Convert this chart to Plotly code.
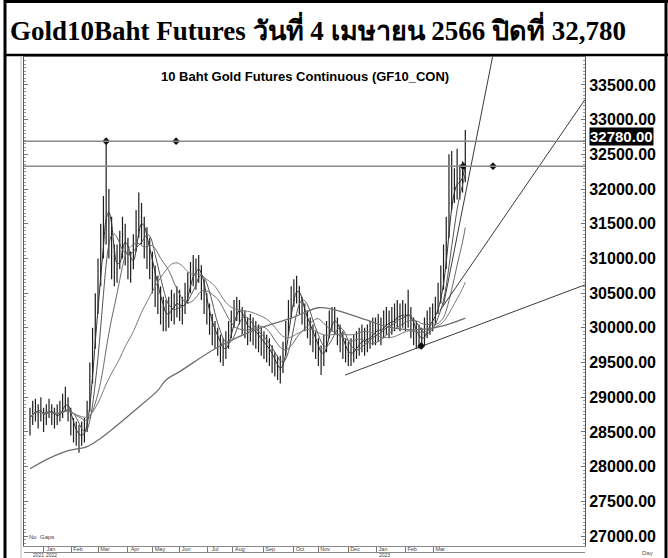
import plotly.graph_objects as go
import pandas as pd

# ---------------- data (one bar = 2 trading days) ----------------
close = [28700, 28800, 28850, 28750, 28820, 28700, 28780, 28850, 28760, 28700,
         28750, 28800, 28900, 28950, 28800, 28600, 28550, 28450, 28420, 28480,
         28550, 28800, 29300, 29800, 30300, 30700, 31200, 31600, 31900, 31500,
         31100, 30800, 30900, 31100, 31350, 31250, 30950, 30850, 31100, 31400,
         31600, 31500, 31300, 31150, 31000, 30800, 30600, 30500, 30300, 30200,
         30150, 30250, 30350, 30300, 30400, 30300, 30250, 30450, 30600, 30750,
         30850, 30800, 30900, 30650, 30400, 30250, 30100, 29950, 29900, 29800,
         29700, 29650, 29750, 29900, 30050, 30200, 30300, 30250, 30100, 30050,
         29950, 30000, 29950, 29900, 29850, 29800, 29750, 29700, 29650, 29550,
         29450, 29400, 29400, 29600, 29900, 30200, 30400, 30550, 30600, 30400,
         30250, 30150, 30050, 29950, 29850, 29750, 29650, 29550, 29700, 29900,
         30050, 30150, 30100, 29950, 29850, 29750, 29650, 29600, 29650, 29700,
         29750, 29800, 29850, 29800, 29850, 29900, 29950, 29950, 30000, 29950,
         30050, 30100, 30050, 30100, 30150, 30200, 30150, 30200, 30150, 30250,
         30050, 29950, 29900, 29850, 29800, 29950, 30050, 30100, 30150, 30250,
         30400, 30600, 30900, 31350, 31800, 32000, 32050, 32150, 32100, 32250, 32780]
high = [28850, 28950, 28980, 28900, 29000, 28850, 28900, 28980, 28900, 28850,
        28900, 28950, 29050, 29150, 29000, 28850, 28700, 28650, 28600, 28650,
        28700, 28950, 29500, 30000, 30500, 31000, 31500, 31900, 32700, 32000,
        31600, 31200, 31200, 31400, 31600, 31500, 31300, 31100, 31350, 31700,
        31950, 31800, 31600, 31450, 31300, 31100, 30900, 30750, 30600, 30450,
        30400, 30450, 30550, 30500, 30600, 30550, 30450, 30650, 30800, 30950,
        31050, 31000, 31050, 30900, 30700, 30500, 30350, 30200, 30100, 30000,
        29900, 29850, 29950, 30100, 30250, 30400, 30450, 30400, 30300, 30250,
        30150, 30200, 30150, 30100, 30050, 30000, 29950, 29900, 29850, 29750,
        29650, 29600, 29600, 29800, 30100, 30400, 30600, 30700, 30750, 30600,
        30450, 30350, 30250, 30150, 30050, 29950, 29850, 29750, 29900, 30100,
        30250, 30300, 30300, 30150, 30050, 29950, 29850, 29800, 29850, 29900,
        29950, 30000, 30050, 30000, 30050, 30100, 30150, 30150, 30200, 30150,
        30250, 30300, 30250, 30300, 30350, 30400, 30350, 30400, 30350, 30550,
        30300, 30150, 30100, 30050, 30000, 30150, 30250, 30300, 30350, 30450,
        30650, 30900, 31200, 31600, 32500, 32550, 32300, 32580, 32350, 32400, 32850]
low = [28450, 28600, 28650, 28550, 28650, 28500, 28600, 28700, 28600, 28550,
       28600, 28650, 28700, 28800, 28650, 28450, 28350, 28300, 28200, 28300,
       28350, 28500, 28800, 29200, 29700, 30200, 30600, 31000, 31200, 31000,
       30700, 30600, 30650, 30850, 31000, 30900, 30700, 30650, 30850, 31100,
       31300, 31200, 31000, 30850, 30700, 30500, 30300, 30200, 30050, 29950,
       29950, 30000, 30100, 30050, 30150, 30100, 30050, 30200, 30350, 30500,
       30600, 30550, 30650, 30400, 30200, 30050, 29900, 29750, 29700, 29600,
       29500, 29450, 29550, 29700, 29850, 30000, 30100, 30050, 29900, 29850,
       29750, 29800, 29750, 29700, 29650, 29600, 29550, 29500, 29450, 29350,
       29300, 29250, 29200, 29350, 29600, 29900, 30150, 30300, 30350, 30200,
       30050, 29950, 29850, 29750, 29650, 29550, 29450, 29320, 29450, 29650,
       29850, 29950, 29900, 29750, 29650, 29550, 29500, 29450, 29450, 29500,
       29550, 29600, 29650, 29600, 29650, 29700, 29750, 29750, 29800, 29750,
       29850, 29900, 29850, 29900, 29950, 30000, 29950, 30000, 29950, 30000,
       29850, 29750, 29700, 29700, 29700, 29750, 29850, 29900, 29950, 30050,
       30200, 30350, 30550, 30850, 31300, 31700, 31800, 31850, 31850, 31950, 32100]
bar_idx = list(range(len(close)))

# long moving average, read point by point
ma_long_idx = [0, 7, 14, 21, 26, 29, 40, 47, 50, 55, 69, 84, 96, 106, 111, 124, 132, 141, 151, 160]
ma_long_val = [27970, 28120, 28230, 28290, 28410, 28500, 28860, 29100, 29250, 29370,
               29720, 29990, 30140, 30290, 30270, 30110, 30010, 29970, 30020, 30140]
ma_windows = [3, 6, 13, 30]

month_pos = [5.1, 15.1, 25.0, 36.0, 45.2, 54.8, 65.4, 74.6, 85.7, 96.7, 105.9, 116.9, 127.2, 137.9, 148.2]
month_labels = ["Jan", "Feb", "Mar", "Apr", "May", "Jun", "Jul", "Aug", "Sep", "Oct",
                "Nov", "Dec", "Jan", "Feb", "Mar"]
year_pos = [0.4, 5.3, 127.4]
year_labels = ["2021", "2022", "2023"]
y_ticks = [27000, 27500, 28000, 28500, 29000, 29500, 30000, 30500,
           31000, 31500, 32000, 32500, 33000, 33500]

levels = [32690, 32330]
trend_start_i = [152, 150.7, 115.8]
trend_start_p = [30330, 30250, 29320]
trend_end_i = [170.5, 204, 204]
trend_end_p = [34000, 33290, 30620]
mark_i = [28, 53.7, 159.2, 170.2, 143.8]
mark_p = [32690, 32690, 32330, 32330, 29740]
last_close = 32780

title_text = "Gold10Baht Futures วันที่ 4 เมษายน 2566 ปิดที่ 32,780"
sub_text = "10 Baht Gold Futures Continuous (GF10_CON)"

# ---------------- figure ----------------
W, H = 668, 558
L, R, T, B = 24, 83, 57, 12
pw, ph = W - L - R, H - T - B

def px_x(px):
    return (px - L) / pw

def px_y(py):
    return (H - B - py) / ph

fig = go.Figure()

opens = [close[0]] + close[:-1]
fig.add_trace(go.Ohlc(x=bar_idx, open=opens, high=high, low=low, close=close,
                      increasing=dict(line=dict(color="#1e1e1e", width=1.2)),
                      decreasing=dict(line=dict(color="#1e1e1e", width=1.2)),
                      tickwidth=0.25, hoverinfo="skip", showlegend=False))

s = pd.Series(close, dtype=float)
ma_colors = ["#333333", "#555555", "#6a6a6a", "#7a7a7a"]
for w, c in zip(ma_windows, ma_colors):
    fig.add_trace(go.Scatter(x=bar_idx, y=s.rolling(w, min_periods=1).mean(),
                             mode="lines", line=dict(color=c, width=1, shape="spline"),
                             showlegend=False, hoverinfo="skip"))

fig.add_trace(go.Scatter(x=ma_long_idx, y=ma_long_val, mode="lines",
                         line=dict(color="#6e6e6e", width=1.3, shape="spline"),
                         showlegend=False, hoverinfo="skip"))

for a, b, c, d in zip(trend_start_i, trend_start_p, trend_end_i, trend_end_p):
    fig.add_trace(go.Scatter(x=[a, c], y=[b, d], mode="lines",
                             line=dict(color="#3a3a3a", width=1),
                             showlegend=False, hoverinfo="skip"))

for v in levels:
    fig.add_hline(y=v, line=dict(color="#8a8a8a", width=1.5))

fig.add_trace(go.Scatter(x=mark_i, y=mark_p, mode="markers",
                         marker=dict(symbol="diamond", size=6, color="#111111"),
                         showlegend=False, hoverinfo="skip"))

fig.update_layout(
    width=W, height=H,
    margin=dict(l=L, r=R, t=T, b=B),
    paper_bgcolor="white", plot_bgcolor="white",
    showlegend=False,
    title=dict(text="<b>" + title_text + "</b>", x=10 / W, xanchor="left",
               xref="container", y=1 - 31 / H, yref="container", yanchor="middle",
               font=dict(family="Liberation Serif, Times New Roman, serif", size=27, color="black")),
    xaxis=dict(range=[-2.2, 204], type="linear", rangeslider=dict(visible=False),
               showgrid=False, zeroline=False, automargin=False,
               showline=True, linecolor="#888888", linewidth=1, mirror=True,
               tickmode="array", tickvals=month_pos, ticktext=month_labels,
               ticks="outside", ticklen=6, tickcolor="#777777", tickwidth=1,
               tickfont=dict(family="Liberation Sans", size=5.5, color="#444444"),
               ticklabelshift=7, ticklabelstandoff=-9),
    yaxis=dict(range=[26857, 33903], side="right", showgrid=False, zeroline=False,
               automargin=False,
               showline=True, linecolor="#555555", linewidth=1, mirror="ticks",
               tickmode="array", tickvals=y_ticks, tickformat=".2f",
               ticks="inside", ticklen=4, tickcolor="#777777",
               minor=dict(dtick=50, tick0=27000, ticks="inside", ticklen=2, tickcolor="#999999"),
               tickfont=dict(family="Liberation Sans", size=16, color="black", weight="bold")),
)

# sub title
fig.add_annotation(x=px_x(305), y=px_y(67), xref="paper", yref="paper",
                   text="<b>" + sub_text + "</b>", showarrow=False,
                   font=dict(family="Liberation Sans", size=13, color="black"))

# last close highlighted label
fig.add_annotation(x=px_x(589), y=last_close, xref="paper", yref="y", xanchor="left",
                   yshift=-2, text="<b>%.2f</b>" % last_close, showarrow=False, bgcolor="black",
                   borderpad=0, font=dict(family="Liberation Sans", size=15, color="white"))

# year labels
for p, t in zip(year_pos, year_labels):
    fig.add_annotation(x=p, y=px_y(560), xref="x", yref="paper", xanchor="left",
                       yanchor="bottom", text=t, showarrow=False,
                       font=dict(family="Liberation Sans", size=5, color="#444444"))

fig.add_annotation(x=px_x(27), y=px_y(542), xref="paper", yref="paper", xanchor="left",
                   text="No  Gaps", showarrow=False,
                   font=dict(family="Liberation Sans", size=6, color="#444444"))
fig.add_annotation(x=px_x(655), y=px_y(558), xref="paper", yref="paper", yanchor="bottom",
                   text="Day", showarrow=False,
                   font=dict(family="Liberation Sans", size=6, color="#555555"))

# frame lines
shapes = [
    dict(type="line", xref="paper", yref="paper", x0=px_x(5), x1=px_x(5), y0=px_y(0), y1=px_y(558),
         line=dict(color="black", width=3)),
    dict(type="line", xref="paper", yref="paper", x0=px_x(5), x1=px_x(668), y0=px_y(1.5), y1=px_y(1.5),
         line=dict(color="black", width=3)),
    dict(type="line", xref="paper", yref="paper", x0=px_x(5), x1=px_x(668), y0=px_y(55), y1=px_y(55),
         line=dict(color="black", width=2.5)),
    dict(type="line", xref="paper", yref="paper", x0=px_x(666), x1=px_x(666), y0=px_y(0), y1=px_y(558),
         line=dict(color="black", width=3)),
    dict(type="line", xref="paper", yref="paper", x0=px_x(21), x1=px_x(21), y0=px_y(57), y1=px_y(558),
         line=dict(color="#bbbbbb", width=1)),
    dict(type="line", xref="paper", yref="paper", x0=0, x1=1, y0=px_y(552.5), y1=px_y(552.5),
         line=dict(color="#888888", width=1)),
]
for sh in shapes:
    fig.add_shape(**sh)

fig.write_html("out.html", config={"displayModeBar": False},
               post_script="document.body.style.margin='0px';")
